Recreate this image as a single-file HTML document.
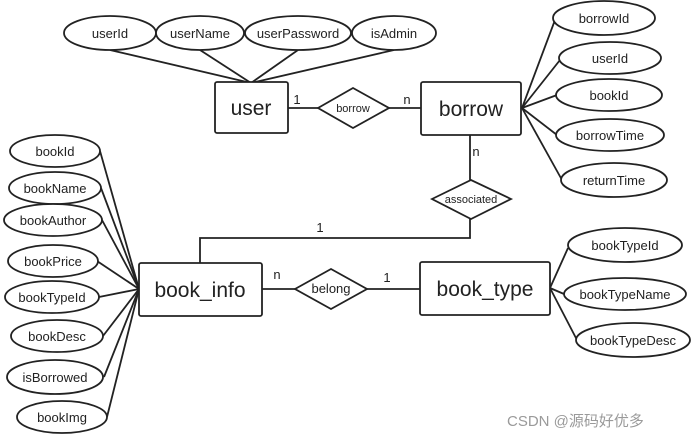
<!DOCTYPE html>
<html><head><meta charset="utf-8"><style>
html,body{margin:0;padding:0;background:#fff;}
svg{display:block;}
text{font-family:"Liberation Sans","DejaVu Sans",sans-serif;fill:#222;}
</style></head><body>
<svg width="693" height="439" viewBox="0 0 693 439" xmlns="http://www.w3.org/2000/svg">
<g stroke="#222" stroke-width="1.8" fill="none">
<!-- user attribute lines -->
<line x1="110" y1="50" x2="251" y2="83"/>
<line x1="200" y1="50" x2="251" y2="83"/>
<line x1="298" y1="50" x2="251" y2="83"/>
<line x1="394" y1="50" x2="251" y2="83"/>
<!-- borrow attribute lines -->
<line x1="522" y1="108" x2="555" y2="20"/>
<line x1="522" y1="108" x2="560" y2="60"/>
<line x1="522" y1="108" x2="557" y2="95"/>
<line x1="522" y1="108" x2="557" y2="135"/>
<line x1="522" y1="108" x2="562" y2="180"/>
<!-- relationships -->
<line x1="288" y1="108" x2="318" y2="108"/>
<line x1="389" y1="108" x2="421" y2="108"/>
<line x1="470" y1="135" x2="470" y2="180"/>
<polyline points="470,219 470,238 200,238 200,263"/>
<line x1="262" y1="289" x2="295" y2="289"/>
<line x1="367" y1="289" x2="420" y2="289"/>
<!-- book_info attrs -->
<line x1="100" y1="151" x2="139" y2="289"/>
<line x1="101" y1="188" x2="139" y2="289"/>
<line x1="102" y1="220" x2="139" y2="289"/>
<line x1="97" y1="261" x2="139" y2="289"/>
<line x1="99" y1="297" x2="139" y2="289"/>
<line x1="103" y1="336" x2="139" y2="289"/>
<line x1="104" y1="377" x2="139" y2="289"/>
<line x1="107" y1="417" x2="139" y2="289"/>
<!-- book_type attrs -->
<line x1="550" y1="288" x2="568" y2="248"/>
<line x1="550" y1="288" x2="564" y2="294"/>
<line x1="550" y1="288" x2="577" y2="340"/>
</g>
<g stroke="#222" stroke-width="1.8" fill="#fff">
<ellipse cx="110" cy="33" rx="46" ry="17"/>
<ellipse cx="200" cy="33" rx="44" ry="17"/>
<ellipse cx="298" cy="33" rx="53" ry="17"/>
<ellipse cx="394" cy="33" rx="42" ry="17"/>
<ellipse cx="604" cy="18" rx="51" ry="17"/>
<ellipse cx="610" cy="58" rx="51" ry="16"/>
<ellipse cx="609" cy="95" rx="53" ry="16"/>
<ellipse cx="610" cy="135" rx="54" ry="16"/>
<ellipse cx="614" cy="180" rx="53" ry="17"/>
<ellipse cx="55" cy="151" rx="45" ry="16"/>
<ellipse cx="55" cy="188" rx="46" ry="16"/>
<ellipse cx="53" cy="220" rx="49" ry="16"/>
<ellipse cx="53" cy="261" rx="45" ry="16"/>
<ellipse cx="52" cy="297" rx="47" ry="16"/>
<ellipse cx="57" cy="336" rx="46" ry="16"/>
<ellipse cx="55" cy="377" rx="48" ry="17"/>
<ellipse cx="62" cy="417" rx="45" ry="16"/>
<ellipse cx="625" cy="245" rx="57" ry="17"/>
<ellipse cx="625" cy="294" rx="61" ry="16"/>
<ellipse cx="633" cy="340" rx="57" ry="17"/>
<rect x="215" y="82" width="73" height="51" rx="2"/>
<rect x="421" y="82" width="100" height="53" rx="2"/>
<rect x="139" y="263" width="123" height="53" rx="2"/>
<rect x="420" y="262" width="130" height="53" rx="2"/>
<polygon points="318,108 353,88 389,108 353,128"/>
<polygon points="432,199 471,180 511,199 471,219"/>
<polygon points="295,289 331,269 367,289 331,309"/>
</g>
<g font-size="13" text-anchor="middle">
<text x="110" y="38">userId</text>
<text x="200" y="38">userName</text>
<text x="298" y="38">userPassword</text>
<text x="394" y="38">isAdmin</text>
<text x="604" y="23">borrowId</text>
<text x="610" y="63">userId</text>
<text x="609" y="100">bookId</text>
<text x="610" y="140">borrowTime</text>
<text x="614" y="185">returnTime</text>
<text x="55" y="156">bookId</text>
<text x="55" y="193">bookName</text>
<text x="53" y="225">bookAuthor</text>
<text x="53" y="266">bookPrice</text>
<text x="52" y="302">bookTypeId</text>
<text x="57" y="341">bookDesc</text>
<text x="55" y="382">isBorrowed</text>
<text x="62" y="422">bookImg</text>
<text x="625" y="250">bookTypeId</text>
<text x="625" y="299">bookTypeName</text>
<text x="633" y="345">bookTypeDesc</text>
</g>
<g font-size="21" text-anchor="middle">
<text x="251" y="115">user</text>
<text x="471" y="116">borrow</text>
<text x="200" y="297">book_info</text>
<text x="485" y="296">book_type</text>
</g>
<g font-size="11" text-anchor="middle">
<text x="353" y="112">borrow</text>
<text x="471" y="203">associated</text>
<text x="331" y="293" font-size="13">belong</text>
</g>
<g font-size="13" text-anchor="middle">
<text x="297" y="104">1</text>
<text x="407" y="104">n</text>
<text x="476" y="156">n</text>
<text x="320" y="232">1</text>
<text x="277" y="279">n</text>
<text x="387" y="282">1</text>
</g>
<text x="507" y="426" font-size="15" fill="#999" style="fill:#9a9a9a" font-family="'Liberation Sans','Noto Sans CJK SC',sans-serif">CSDN @源码好优多</text>
</svg>
</body></html>
